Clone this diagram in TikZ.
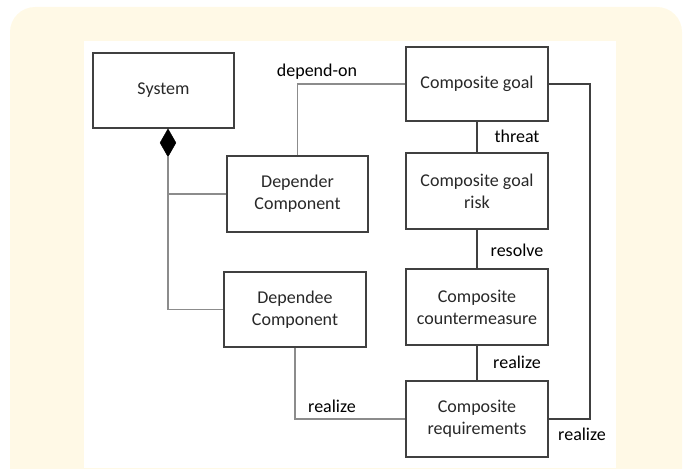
\documentclass[tikz,border=0pt]{standalone}
\usepackage{fontspec}
\setmainfont{Carlito}
\usetikzlibrary{shapes.geometric}
\definecolor{cream}{RGB}{255,249,230}
\definecolor{boxline}{RGB}{64,64,64}
\definecolor{lightline}{RGB}{140,140,140}
\definecolor{boxtext}{RGB}{40,40,40}

\begin{document}
\begin{tikzpicture}[x=1pt,y=-1pt,
  box/.style={draw=boxline, line width=1.2pt, fill=white, minimum width=142pt,
    minimum height=75pt, align=center, text=boxtext, inner sep=0pt,
    font=\fontsize{18}{22}\selectfont},
  lbl/.style={text=black, inner sep=0pt, font=\fontsize{18}{22}\selectfont},
  dark/.style={draw=boxline, line width=1.2pt},
  light/.style={draw=lightline, line width=1.2pt}]
\useasboundingbox (0,0) rectangle (692,468);

% panel backgrounds
\fill[cream, rounded corners=25pt] (10,7) rectangle (682,520);
\fill[white] (84,41) rectangle (616,468);

% left column
\node[box, minimum width=141pt] (sys) at (163.5,90.5) {System};
\node[box, minimum width=141pt, minimum height=76pt] (dep) at (297.5,194) {Depender\\Component};
\node[box] (dee) at (295,309.5) {Dependee\\Component};

% right column
\node[box, minimum height=74pt] (goal) at (477,84) {Composite goal};
\node[box, minimum height=76pt] (risk) at (477,191) {Composite goal\\risk};
\node[box, minimum height=76pt] (cm) at (477,307) {Composite\\countermeasure};
\node[box, minimum height=76pt] (req) at (477,419) {Composite\\requirements};

% composition diamond
\node[diamond, fill=black, draw=black, inner sep=0pt, minimum width=16pt,
  minimum height=28pt, anchor=north] (dia) at ([xshift=4.5pt]sys.south) {};

% composition links
\draw[light] (dia.south) |- (dee.west);
\draw[light] (dia.south |- dep.west) -- (dep.west);

% dependency and realization on the left
\draw[light] (dep.north) |- (goal.west);
\node[lbl] (ldep) at (317,72) {depend-on};
\draw[light] (dee.south) |- (req.west);
\node[lbl] (lrea1) at (332,406) {realize};

% chain on the right
\draw[dark] (goal.south) -- (risk.north);
\node[lbl] (lthr) at (517,136) {threat};
\draw[dark] (risk.south) -- (cm.north);
\node[lbl] (lres) at (517,250) {resolve};
\draw[dark] (cm.south) -- (req.north);
\node[lbl] (lrea2) at (517,362) {realize};

% outer loop from goal to requirements
\coordinate (loop) at (590,84);
\draw[dark] (goal.east) -- (loop) |- (req.east);
\node[lbl] (lrea3) at (582,434) {realize};
\end{tikzpicture}
\end{document}
